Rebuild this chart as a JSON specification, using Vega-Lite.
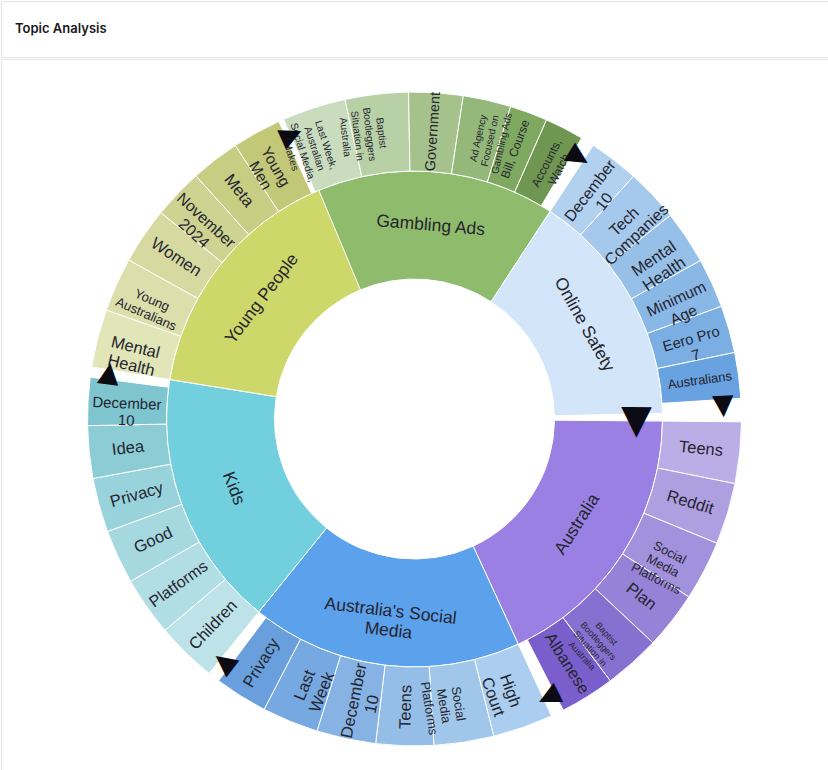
{
  "$schema": "https://vega.github.io/schema/vega-lite/v6.json",
  "padding": 0,
  "spacing": 0,
  "config": {"view": {"stroke": "#e4e4e7", "fill": "#ffffff"}, "font": "Liberation Sans"},
  "vconcat": [
    {
      "width": 827,
      "height": 56,
      "view": {"stroke": "#e4e4e7", "fill": "#ffffff", "strokeWidth": 1},
      "title": {"text": "Topic Analysis", "anchor": "start", "frame": "group", "offset": -35, "dx": 14, "fontSize": 13, "fontWeight": 600, "font": "Inter", "color": "#18181b"},
      "data": {"values": []},
      "mark": "point"
    },
    {
      "width": 827,
      "height": 712,
      "view": {"stroke": "#e4e4e7", "fill": "#ffffff", "strokeWidth": 1},
      "data": {"values": [
        {"group": "Gambling Ads", "topic": "Last Week,\nAustralian\nSocial Media,\nMakes", "value": 11.3},
        {"group": "Gambling Ads", "topic": "Baptist\nBootleggers\nSituation in\nAustralia", "value": 11.2},
        {"group": "Gambling Ads", "topic": "Government", "value": 9.6},
        {"group": "Gambling Ads", "topic": "Ad Agency\nFocused on\nGambling Ads", "value": 8.5},
        {"group": "Gambling Ads", "topic": "Bill, Course", "value": 6.7},
        {"group": "Gambling Ads", "topic": "Accounts,\nWatch", "value": 6.9},
        {"group": "Gambling Ads", "topic": "", "value": 2.4},
        {"group": "Online Safety", "topic": "December\n10", "value": 8.9},
        {"group": "Online Safety", "topic": "Tech\nCompanies", "value": 9.4},
        {"group": "Online Safety", "topic": "Mental\nHealth", "value": 9.5},
        {"group": "Online Safety", "topic": "Minimum\nAge", "value": 8.8},
        {"group": "Online Safety", "topic": "Eero Pro\n7", "value": 8.4},
        {"group": "Online Safety", "topic": "Australians", "value": 8.1},
        {"group": "Online Safety", "topic": "", "value": 2.3},
        {"group": "", "topic": "", "value": 1.8},
        {"group": "Australia", "topic": "Teens", "value": 10.9},
        {"group": "Australia", "topic": "Reddit", "value": 10.9},
        {"group": "Australia", "topic": "Social\nMedia\nPlatforms", "value": 10.6},
        {"group": "Australia", "topic": "Plan", "value": 10.2},
        {"group": "Australia", "topic": "Baptist\nBootleggers\nSituation in\nAustralia", "value": 10.0},
        {"group": "Australia", "topic": "Albanese", "value": 9.7},
        {"group": "Australia", "topic": "", "value": 2.3},
        {"group": "Australia's Social Media", "topic": "High\nCourt", "value": 10.7},
        {"group": "Australia's Social Media", "topic": "Social\nMedia\nPlatforms", "value": 10.6},
        {"group": "Australia's Social Media", "topic": "Teens", "value": 10.2},
        {"group": "Australia's Social Media", "topic": "December\n10", "value": 10.5},
        {"group": "Australia's Social Media", "topic": "Last\nWeek", "value": 10.0},
        {"group": "Australia's Social Media", "topic": "Privacy", "value": 9.4},
        {"group": "Australia's Social Media", "topic": "", "value": 2.1},
        {"group": "Kids", "topic": "Children", "value": 10.8},
        {"group": "Kids", "topic": "Platforms", "value": 10.5},
        {"group": "Kids", "topic": "Good", "value": 9.6},
        {"group": "Kids", "topic": "Privacy", "value": 9.6},
        {"group": "Kids", "topic": "Idea", "value": 9.3},
        {"group": "Kids", "topic": "December\n10", "value": 8.5},
        {"group": "Kids", "topic": "", "value": 1.8},
        {"group": "Young People", "topic": "Mental\nHealth", "value": 10.3},
        {"group": "Young People", "topic": "Young\nAustralians", "value": 9.6},
        {"group": "Young People", "topic": "Women", "value": 10.0},
        {"group": "Young People", "topic": "November\n2024", "value": 8.9},
        {"group": "Young People", "topic": "Meta", "value": 8.7},
        {"group": "Young People", "topic": "Young\nMen", "value": 8.7},
        {"group": "Young People", "topic": "", "value": 1.8}
      ]},
      "transform": [
        {"window": [{"op": "row_number", "as": "idx"}]},
        {"stack": "value", "groupby": [], "sort": [{"field": "idx"}], "as": ["t0", "t1"]},
        {"joinaggregate": [{"op": "sum", "field": "value", "as": "total"}]}
      ],
      "layer": [
        {
          "transform": [
            {"aggregate": [{"op": "min", "field": "t0", "as": "g0"}, {"op": "max", "field": "t1", "as": "g1"}, {"op": "max", "field": "total", "as": "total"}], "groupby": ["group"]},
            {"filter": "datum.group !== ''"},
            {"calculate": "datum.group", "as": "key"}
          ],
          "mark": {"type": "arc", "radius": 248, "radius2": 140, "stroke": "#ffffff", "strokeWidth": 1, "y": {"expr": "concat_1_height/2 + 4"}},
          "encoding": {
            "theta": {"field": "g0", "type": "quantitative", "scale": {"range": [5.87131, 12.1545], "nice": false, "zero": true}},
            "theta2": {"field": "g1"},
            "color": {"field": "key", "type": "nominal", "legend": null, "scale": {
              "domain": ["Gambling Ads", "Online Safety", "Australia", "Australia's Social Media", "Kids", "Young People",
                "Gambling Ads|Last Week,\nAustralian\nSocial Media,\nMakes", "Gambling Ads|Baptist\nBootleggers\nSituation in\nAustralia", "Gambling Ads|Government", "Gambling Ads|Ad Agency\nFocused on\nGambling Ads", "Gambling Ads|Bill, Course", "Gambling Ads|Accounts,\nWatch",
                "Online Safety|December\n10", "Online Safety|Tech\nCompanies", "Online Safety|Mental\nHealth", "Online Safety|Minimum\nAge", "Online Safety|Eero Pro\n7", "Online Safety|Australians",
                "Australia|Teens", "Australia|Reddit", "Australia|Social\nMedia\nPlatforms", "Australia|Plan", "Australia|Baptist\nBootleggers\nSituation in\nAustralia", "Australia|Albanese",
                "Australia's Social Media|High\nCourt", "Australia's Social Media|Social\nMedia\nPlatforms", "Australia's Social Media|Teens", "Australia's Social Media|December\n10", "Australia's Social Media|Last\nWeek", "Australia's Social Media|Privacy",
                "Kids|Children", "Kids|Platforms", "Kids|Good", "Kids|Privacy", "Kids|Idea", "Kids|December\n10",
                "Young People|Mental\nHealth", "Young People|Young\nAustralians", "Young People|Women", "Young People|November\n2024", "Young People|Meta", "Young People|Young\nMen"],
              "range": ["#8fbb6d", "#d3e5f8", "#9a80e2", "#5ba1ec", "#72d0de", "#ced769",
                "#c9dcbe", "#b8d0a6", "#a5c28c", "#93b879", "#7fa860", "#6f9752",
                "#b1d1ef", "#a5c9ec", "#97c0e9", "#89b7e6", "#7baee3", "#68a2e0",
                "#bbaee6", "#ae9fe1", "#a291dc", "#9683d7", "#8671d1", "#7a5fcc",
                "#aacdf0", "#a0c7ea", "#94bee8", "#86b3e4", "#76a8e1", "#689fdc",
                "#bde3e8", "#b1dde4", "#a5d8df", "#98d2da", "#8bccd5", "#7ec5cf",
                "#e2e5b8", "#dcdfac", "#d6d9a0", "#cfd392", "#c8cd84", "#c3c878"]}}
          }
        },
        {
          "transform": [
            {"filter": "datum.topic !== ''"},
            {"calculate": "datum.group + '|' + datum.topic", "as": "key"}
          ],
          "mark": {"type": "arc", "radius": 327, "radius2": 248, "stroke": "#ffffff", "strokeWidth": 1, "y": {"expr": "concat_1_height/2 + 4"}},
          "encoding": {
            "theta": {"field": "t0", "type": "quantitative", "scale": {"range": [5.87131, 12.1545], "nice": false, "zero": true}},
            "theta2": {"field": "t1"},
            "color": {"field": "key", "type": "nominal", "legend": null}
          }
        },
        {
          "transform": [
            {"filter": "datum.topic !== ''"},
            {"calculate": "(datum.t0 + datum.t1) / 2", "as": "tm"},
            {"calculate": "(336.4 + datum.tm / datum.total * 360) % 360", "as": "deg"},
            {"calculate": "datum.deg < 180 ? datum.deg - 90 : datum.deg - 270", "as": "rot"},
            {"calculate": "split(datum.topic, '\\n')", "as": "parts"},
            {"calculate": "length(datum.parts)", "as": "nl"},
            {"calculate": "max(length(datum.parts[0]), datum.nl > 1 ? length(datum.parts[1]) : 0, datum.nl > 2 ? length(datum.parts[2]) : 0, datum.nl > 3 ? length(datum.parts[3]) : 0)", "as": "ml"},
            {"calculate": "max(8, min(16.5, 72 / (datum.ml * 0.5), ((datum.t1 - datum.t0) / datum.total * 2 * PI * 280 - 4) / (datum.nl * 1.25)))", "as": "fs"}
          ],
          "mark": {"type": "text", "radius": 288, "lineBreak": "\n", "align": "center", "baseline": "middle", "color": "#25252f", "font": "Liberation Sans", "y": {"expr": "concat_1_height/2 + 4"}},
          "encoding": {
            "theta": {"field": "tm", "type": "quantitative", "stack": null},
            "text": {"field": "topic"},
            "angle": {"field": "rot", "type": "quantitative", "scale": null},
            "size": {"field": "fs", "type": "quantitative", "scale": null}
          }
        },
        {
          "transform": [
            {"aggregate": [{"op": "min", "field": "t0", "as": "g0"}, {"op": "max", "field": "t1", "as": "g1"}, {"op": "max", "field": "total", "as": "total"}], "groupby": ["group"]},
            {"filter": "datum.group !== ''"},
            {"calculate": "(datum.g0 + datum.g1) / 2", "as": "tm"},
            {"calculate": "(336.4 + datum.tm / datum.total * 360) % 360", "as": "deg"},
            {"calculate": "datum.deg > 90 && datum.deg < 270 ? datum.deg - 180 : datum.deg", "as": "rot"},
            {"calculate": "length(datum.group) > 16 ? slice(datum.group, 0, lastindexof(datum.group, ' ')) + '\\n' + slice(datum.group, lastindexof(datum.group, ' ') + 1) : datum.group", "as": "glabel"}
          ],
          "mark": {"type": "text", "radius": 194, "fontSize": 17.5, "lineBreak": "\n", "align": "center", "baseline": "middle", "color": "#25252f", "font": "Liberation Sans", "y": {"expr": "concat_1_height/2 + 4"}},
          "encoding": {
            "theta": {"field": "tm", "type": "quantitative", "stack": null},
            "text": {"field": "glabel"},
            "angle": {"field": "rot", "type": "quantitative", "scale": null}
          }
        },
        {
          "transform": [
            {"filter": "datum.topic === '' && datum.group !== ''"},
            {"calculate": "(datum.t0 + datum.t1) / 2", "as": "tm"},
            {"calculate": "(336.4 + datum.tm / datum.total * 360) % 360 - 90", "as": "rot"},
            {"calculate": "'▼'", "as": "glyph"}
          ],
          "mark": {"type": "text", "radius": 309, "fontSize": 28, "align": "center", "baseline": "middle", "color": "#0b0b14", "font": "DejaVu Sans", "y": {"expr": "concat_1_height/2 + 4"}},
          "encoding": {
            "theta": {"field": "tm", "type": "quantitative", "stack": null},
            "text": {"field": "glyph"},
            "angle": {"field": "rot", "type": "quantitative", "scale": null}
          }
        },
        {
          "transform": [
            {"filter": "datum.topic === '' && datum.group === ''"},
            {"calculate": "datum.t1", "as": "tm"},
            {"calculate": "(336.4 + datum.tm / datum.total * 360) % 360 - 90", "as": "rot"},
            {"calculate": "'▼'", "as": "glyph"}
          ],
          "mark": {"type": "text", "radius": 222, "fontSize": 40, "align": "center", "baseline": "middle", "color": "#0b0b14", "font": "DejaVu Sans", "y": {"expr": "concat_1_height/2 + 4"}},
          "encoding": {
            "theta": {"field": "tm", "type": "quantitative", "stack": null},
            "text": {"field": "glyph"},
            "angle": {"field": "rot", "type": "quantitative", "scale": null}
          }
        }
      ]
    }
  ]
}
